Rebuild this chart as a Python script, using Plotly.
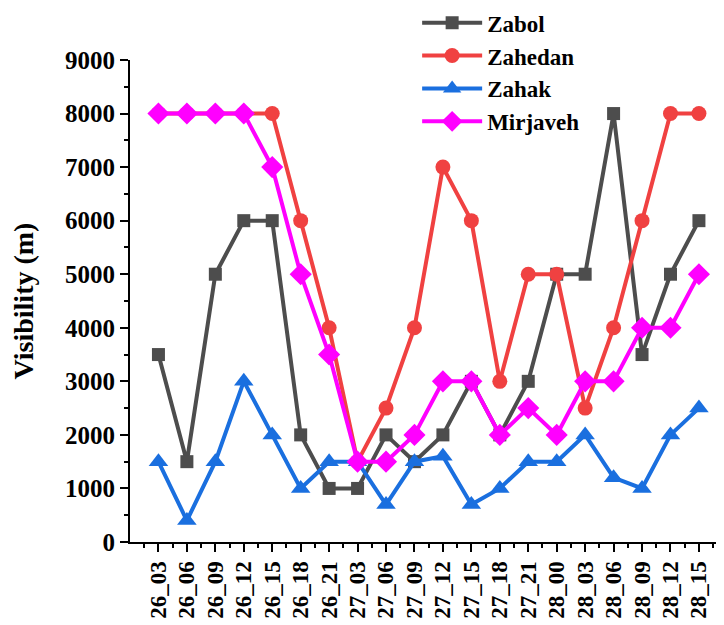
import plotly.graph_objects as go

categories = ["26_03", "26_06", "26_09", "26_12", "26_15", "26_18", "26_21", "27_03", "27_06", "27_09",
              "27_12", "27_15", "27_18", "27_21", "28_00", "28_03", "28_06", "28_09", "28_12", "28_15"]
zabol = [3500, 1500, 5000, 6000, 6000, 2000, 1000, 1000, 2000, 1500, 2000, 3000, 2000, 3000, 5000, 5000, 8000, 3500, 5000, 6000]
zahedan = [8000, 8000, 8000, 8000, 8000, 6000, 4000, 1500, 2500, 4000, 7000, 6000, 3000, 5000, 5000, 2500, 4000, 6000, 8000, 8000]
zahak = [1500, 400, 1500, 3000, 2000, 1000, 1500, 1500, 700, 1500, 1600, 700, 1000, 1500, 1500, 2000, 1200, 1000, 2000, 2500]
mirjaveh = [8000, 8000, 8000, 8000, 7000, 5000, 3500, 1500, 1500, 2000, 3000, 3000, 2000, 2500, 2000, 3000, 3000, 4000, 4000, 5000]
y_ticks = [0, 1000, 2000, 3000, 4000, 5000, 6000, 7000, 8000, 9000]

series = [
    ("Zabol", zabol, "#4d4d4d", "square", 13),
    ("Zahedan", zahedan, "#f04141", "circle", 15),
    ("Zahak", zahak, "#1a6fdf", "triangle-up", 17),
    ("Mirjaveh", mirjaveh, "#ff00ff", "diamond", 17),
]

x = list(range(len(categories)))
fig = go.Figure()
for name, vals, color, sym, size in series:
    fig.add_trace(go.Scatter(
        x=x, y=vals, name="<b>%s</b>" % name, mode="lines+markers",
        line=dict(color=color, width=4),
        marker=dict(symbol=sym, size=size, color=color),
    ))

font = "Liberation Serif, Times New Roman, serif"
fig.update_layout(
    width=724, height=625,
    margin=dict(l=122, r=16, t=52, b=91, autoexpand=False),
    plot_bgcolor="white", paper_bgcolor="white",
    font=dict(family=font, size=24, color="black"),
    showlegend=True,
    legend=dict(x=0.49, y=1.122, xanchor="left", yanchor="top",
                bgcolor="rgba(0,0,0,0)", font=dict(family=font, size=23, color="black"),
                tracegroupgap=0, itemwidth=60),
    xaxis=dict(
        range=[-1, 19.6], tickmode="array", tickvals=x, ticktext=["<b>%s</b>" % c for c in categories],
        tickangle=-90, ticks="outside", ticklen=8, tickwidth=2, tickcolor="black",
        showline=True, linecolor="black", linewidth=2, showgrid=False, zeroline=False,
        automargin=False,
        tickfont=dict(family=font, size=23, color="black"),
        minor=dict(tickmode="linear", tick0=-0.5, dtick=1, ticks="outside", ticklen=4,
                   tickwidth=2, tickcolor="black", showgrid=False),
    ),
    yaxis=dict(
        range=[0, 9000], tickmode="array", tickvals=y_ticks, ticktext=["<b>%d</b>" % v for v in y_ticks],
        ticks="outside", ticklen=8, tickwidth=2, tickcolor="black",
        showline=True, linecolor="black", linewidth=2, showgrid=False, zeroline=False,
        automargin=False,
        tickfont=dict(family=font, size=25, color="black"),
        title=dict(text="<b>Visibility (m)</b>", font=dict(family=font, size=28, color="black"), standoff=25),
        minor=dict(tickmode="linear", tick0=500, dtick=1000, ticks="outside", ticklen=4,
                   tickwidth=2, tickcolor="black", showgrid=False),
    ),
)

fig.write_html("out.html")
